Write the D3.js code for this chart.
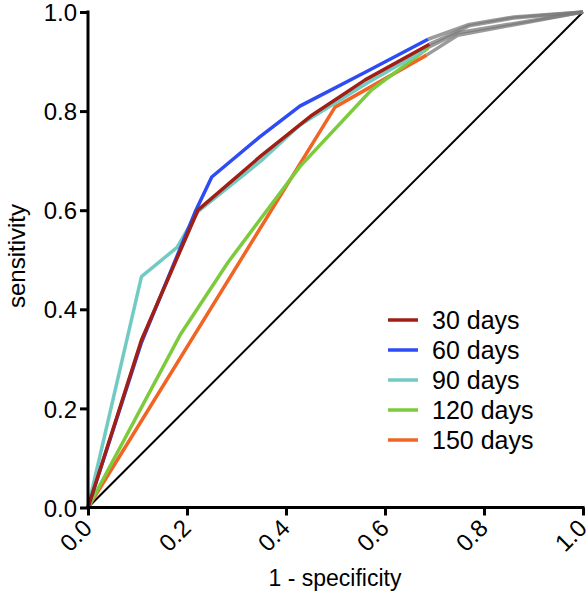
<!DOCTYPE html>
<html><head><meta charset="utf-8">
<script src="https://cdn.jsdelivr.net/npm/d3@7"></script>
<style>body{margin:0;background:#fff}svg{display:block}text{font-family:"Liberation Sans",Arial,sans-serif}</style>
</head><body>
<script>
const seriesNames = ["30 days","60 days","90 days","120 days","150 days"];
const seriesColors = ["#a11f14","#2d4cf5","#72cbc3","#7ccb3c","#f06424"];
const fpr30 = [0,0.108,0.222,0.35,0.45,0.56,0.69];
const tpr30 = [0,0.338,0.600,0.710,0.790,0.863,0.935];
const fpr60 = [0,0.108,0.218,0.25,0.347,0.428,0.563,0.687];
const tpr60 = [0,0.333,0.600,0.667,0.748,0.810,0.880,0.945];
const fpr90 = [0,0.108,0.18,0.222,0.35,0.428,0.563,0.68];
const tpr90 = [0,0.466,0.525,0.597,0.700,0.772,0.856,0.923];
const fpr120 = [0,0.186,0.283,0.428,0.573,0.687];
const tpr120 = [0,0.348,0.495,0.688,0.843,0.927];
const fpr150 = [0,0.499,0.684];
const tpr150 = [0,0.808,0.913];
// grey continuation to (1,1)
const greyUpperX = [0.687,0.77,0.86,1];
const greyUpperY = [0.945,0.975,0.99,1];
const greyUpper2X = [0.69,0.77,0.86,1];
const greyUpper2Y = [0.935,0.972,0.988,1];
const greyLowerX = [0.684,0.747,1];
const greyLowerY = [0.913,0.953,1];
const greyLower2X = [0.68,0.747,1];
const greyLower2Y = [0.925,0.958,1];
const tickVals = [0,0.2,0.4,0.6,0.8,1.0];

const W=586,H=600;
const svg=d3.select("body").append("svg").attr("width",W).attr("height",H);
const x=d3.scaleLinear().domain([0,1]).range([88,583]);
const y=d3.scaleLinear().domain([0,1]).range([507.5,12]);
const line=d3.line().x(d=>x(d[0])).y(d=>y(d[1]));
const zip=(a,b)=>a.map((v,i)=>[v,b[i]]);

// diagonal
svg.append("path").attr("d",line([[0,0],[1,1]])).attr("stroke","#000").attr("stroke-width",2).attr("fill","none");

// grey continuations
[[greyUpperX,greyUpperY],[greyUpper2X,greyUpper2Y],[greyLowerX,greyLowerY],[greyLower2X,greyLower2Y]].forEach(([a,b])=>{
  svg.append("path").attr("d",line(zip(a,b))).attr("stroke","#7a7a7a").attr("stroke-opacity",0.75)
    .attr("stroke-width",3.5).attr("fill","none").attr("stroke-linejoin","round");
});

const data=[zip(fpr30,tpr30),zip(fpr60,tpr60),zip(fpr90,tpr90),zip(fpr120,tpr120),zip(fpr150,tpr150)];
const order=[4,3,2,1,0];
order.forEach(i=>{
  svg.append("path").attr("d",line(data[i])).attr("stroke",seriesColors[i]).attr("stroke-width",3.5)
    .attr("fill","none").attr("stroke-linejoin","round");
});

// axes
const xAxis=d3.axisBottom(x).tickValues(tickVals).tickFormat(d3.format(".1f")).tickSizeOuter(0).tickSize(8);
const gx=svg.append("g").attr("transform","translate(0,507.5)").call(xAxis);
gx.select(".domain").attr("stroke-width",3).attr("d","M86.5,0H584.5");
gx.selectAll(".tick line").attr("stroke-width",3);
gx.selectAll(".tick text").attr("font-size",24).attr("fill","#000")
  .attr("text-anchor","end").attr("dy",0).attr("y",0)
  .attr("transform","translate(5,22) rotate(-45)");

const yAxis=d3.axisLeft(y).tickValues(tickVals).tickFormat(d3.format(".1f")).tickSizeOuter(0).tickSize(8);
const gy=svg.append("g").attr("transform","translate(88,0)").call(yAxis);
gy.select(".domain").attr("stroke-width",3).attr("d","M0,10.5V509");
gy.selectAll(".tick line").attr("stroke-width",3);
gy.selectAll(".tick text").attr("font-size",24).attr("fill","#000").attr("x",-11).attr("dy","0.36em");

// axis titles
svg.append("text").attr("x",335).attr("y",586).attr("text-anchor","middle").attr("font-size",23).text("1 - specificity");
svg.append("text").attr("transform","translate(25,256) rotate(-90)").attr("text-anchor","middle").attr("font-size",24).text("sensitivity");

// legend
const lg=svg.append("g");
seriesNames.forEach((n,i)=>{
  const yy=320+i*30;
  lg.append("line").attr("x1",388).attr("x2",418).attr("y1",yy).attr("y2",yy).attr("stroke",seriesColors[i]).attr("stroke-width",3.5);
  lg.append("text").attr("x",432).attr("y",yy).attr("dy","0.36em").attr("font-size",25).text(n);
});
</script>
</body></html>
